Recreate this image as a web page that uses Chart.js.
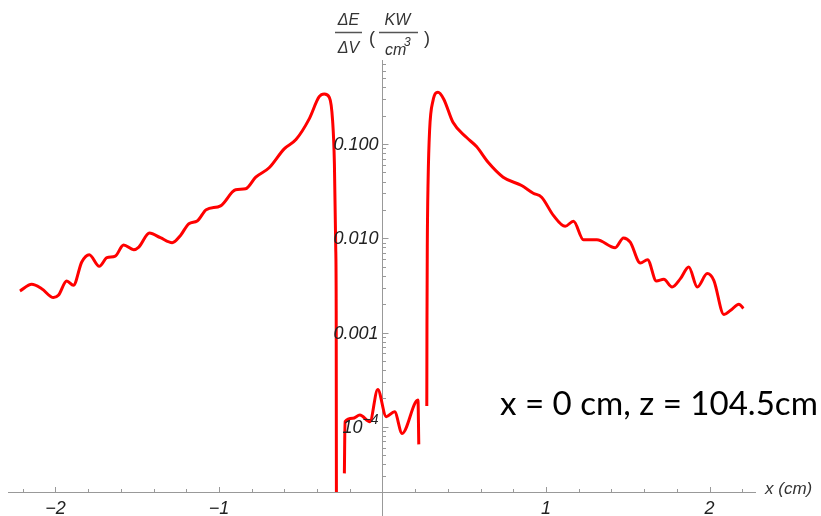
<!DOCTYPE html>
<html><head><meta charset="utf-8">
<script src="https://cdn.jsdelivr.net/npm/chart.js@4"></script>
<style>html,body{margin:0;padding:0;background:#fff;} canvas{display:block;}</style>
</head><body>
<canvas id="c" width="821" height="516"></canvas>
<script>
// ---- data ----
const leftX = [-2.217,-2.145,-2.084,-2.012,-1.982,-1.931,-1.89,-1.839,-1.793,-1.732,-1.685,-1.634,-1.583,-1.521,-1.49,-1.425,-1.358,-1.286,-1.235,-1.184,-1.133,-1.078,-0.99,-0.898,-0.837,-0.775,-0.693,-0.601,-0.529,-0.448,-0.387,-0.356,-0.325,-0.305,-0.294,-0.286,-0.283,-0.281];
const leftY = [0.00276,0.00325,0.00292,0.00235,0.00248,0.00352,0.00317,0.0056,0.0067,0.00504,0.00622,0.00648,0.00848,0.00757,0.00807,0.01136,0.01014,0.00897,0.01073,0.01429,0.01524,0.0201,0.0221,0.0327,0.0335,0.0445,0.056,0.089,0.1116,0.185,0.318,0.34,0.313,0.177,0.062,0.0081,0.0017,0.000001];
const midX = [-0.233,-0.229,-0.182,-0.138,-0.077,-0.029,0.023,0.074,0.12,0.217,0.222];
const midY = [0.000032,0.000113,0.000123,0.000133,0.000113,0.000249,0.000128,0.000144,0.000085,0.000192,0.000065];
const rightX = [0.271,0.272,0.274,0.279,0.288,0.309,0.339,0.374,0.431,0.513,0.575,0.646,0.738,0.851,0.922,0.973,1.045,1.117,1.168,1.229,1.311,1.423,1.474,1.515,1.577,1.621,1.675,1.72,1.771,1.822,1.873,1.925,1.986,2.026,2.088,2.129,2.18,2.207];
const rightY = [0.000166,0.0012,0.0081,0.041,0.139,0.289,0.354,0.301,0.170,0.118,0.094,0.064,0.0445,0.0363,0.0301,0.0273,0.0175,0.0134,0.0152,0.00966,0.00966,0.00794,0.0101,0.0091,0.00546,0.00593,0.00352,0.00367,0.00304,0.00373,0.00496,0.00304,0.00422,0.00358,0.00155,0.00172,0.002,0.0018];

const xTickValues = [-2, -1, 1, 2];
const xTickLabels = ['\u22122', '\u22121', '1', '2'];
const yTickValues = [1e-4, 1e-3, 1e-2, 1e-1];
const yTickLabels = ['10^\u22124', '0.001', '0.010', '0.100'];   // '^' marks a superscript part
const annotationText = 'x = 0 cm, z = 104.5cm';
const xAxisTitle = 'x (cm)';

const FONT = '"Liberation Sans", Arial, Helvetica, sans-serif';

function mk(xs, ys) {
  return {
    data: xs.map((x, i) => ({x: x, y: ys[i]})),
    showLine: true, borderColor: '#ff0000', backgroundColor: '#ff0000',
    borderWidth: 3, pointRadius: 0, cubicInterpolationMode: 'monotone',
    clip: 0, fill: false, borderJoinStyle: 'round', borderCapStyle: 'butt'
  };
}

const decor = {
  id: 'decor',
  afterDraw(chart) {
    const ctx = chart.ctx, xs = chart.scales.x, ys = chart.scales.y;
    const x0 = Math.round(xs.getPixelForValue(0)) + 0.5, yb = ys.bottom;
    ctx.save();
    ctx.strokeStyle = '#999'; ctx.lineWidth = 1;
    ctx.beginPath();
    ctx.moveTo(x0, yb); ctx.lineTo(x0, chart.height);
    for (let k = -11; k <= 11; k++) {
      if (k === 0) continue;
      const px = Math.round(xs.getPixelForValue(k * 0.2)) + 0.5;
      const len = (k % 5 === 0) ? 5 : 3;
      ctx.moveTo(px, yb); ctx.lineTo(px, yb - len);
    }
    for (let n = -5; n <= 0; n++) {
      for (let m = 1; m <= 9; m++) {
        const v = m * Math.pow(10, n);
        if (v < ys.min || v > ys.max) continue;
        const py = Math.round(ys.getPixelForValue(v)) + 0.5;
        const len = (m === 1) ? 6 : 3.5;
        ctx.moveTo(x0, py); ctx.lineTo(x0 + len, py);
      }
    }
    ctx.stroke();

    // y tick labels, right-aligned left of the axis
    ctx.fillStyle = '#222';
    ctx.textBaseline = 'middle';
    yTickValues.forEach((v, i) => {
      const py = ys.getPixelForValue(v);
      const parts = yTickLabels[i].split('^');
      let right = x0 - 4;
      ctx.textAlign = 'right';
      if (parts.length > 1) {
        ctx.font = 'italic 14px ' + FONT;
        ctx.fillText(parts[1], right, py - 7);
        right -= ctx.measureText(parts[1]).width;
      }
      ctx.font = 'italic 18px ' + FONT;
      ctx.fillText(parts[0], right, py + 1);
    });

    // x axis title
    ctx.textBaseline = 'alphabetic';
    ctx.fillStyle = '#333';
    ctx.font = 'italic 17px ' + FONT;
    ctx.textAlign = 'left';
    ctx.fillText(xAxisTitle, 765, 494);

    // y axis title (fraction)
    ctx.font = 'italic 16px ' + FONT;
    ctx.textAlign = 'center';
    ctx.fillText('\u0394E', 348.5, 25);
    ctx.fillText('\u0394V', 348.5, 53);
    ctx.fillText('KW', 397.5, 25);
    ctx.textAlign = 'left';
    ctx.fillText('cm', 385, 55);
    ctx.font = 'italic 12px ' + FONT;
    ctx.fillText('3', 404, 46);
    ctx.font = '18px ' + FONT;
    ctx.fillText('(', 369, 44);
    ctx.fillText(')', 424, 44);
    ctx.strokeStyle = '#555'; ctx.lineWidth = 1.3;
    ctx.beginPath();
    ctx.moveTo(335, 32.5); ctx.lineTo(362, 32.5);
    ctx.moveTo(379, 32.5); ctx.lineTo(418, 32.5);
    ctx.stroke();

    // annotation
    ctx.fillStyle = '#000';
    let size = 30;
    ctx.font = size + 'px Lato';
    const w = ctx.measureText(annotationText).width;
    size = size * 318 / w;
    ctx.font = size.toFixed(2) + 'px Lato';
    ctx.textAlign = 'left';
    ctx.fillText(annotationText, 500, 415);
    ctx.restore();
  }
};

new Chart(document.getElementById('c'), {
  type: 'scatter',
  data: { datasets: [mk(leftX, leftY), mk(midX, midY), mk(rightX, rightY)] },
  options: {
    responsive: false, animation: false, devicePixelRatio: 1,
    layout: { padding: { left: 8, right: 66, top: 60, bottom: 0 } },
    plugins: { legend: { display: false }, tooltip: { enabled: false } },
    scales: {
      x: {
        type: 'linear', position: 'bottom', min: -2.29, max: 2.278,
        grid: { display: false, drawTicks: false },
        border: { display: true, color: '#999', width: 1 },
        afterBuildTicks: s => { s.ticks = xTickValues.map(v => ({ value: v })); },
        afterFit: s => { s.height = 24; },
        ticks: {
          autoSkip: false, maxRotation: 0, padding: 6, color: '#222',
          font: { family: FONT, style: 'italic', size: 18 },
          callback: v => { const i = xTickValues.indexOf(v); return i >= 0 ? xTickLabels[i] : ''; }
        }
      },
      y: {
        type: 'logarithmic', position: { x: 0 }, min: 2.03e-5, max: 0.78,
        grid: { display: false, drawTicks: false },
        border: { display: true, color: '#999', width: 1 },
        afterBuildTicks: s => { s.ticks = yTickValues.map(v => ({ value: v })); },
        ticks: { display: false }
      }
    }
  },
  plugins: [decor]
});
</script>
</body></html>
